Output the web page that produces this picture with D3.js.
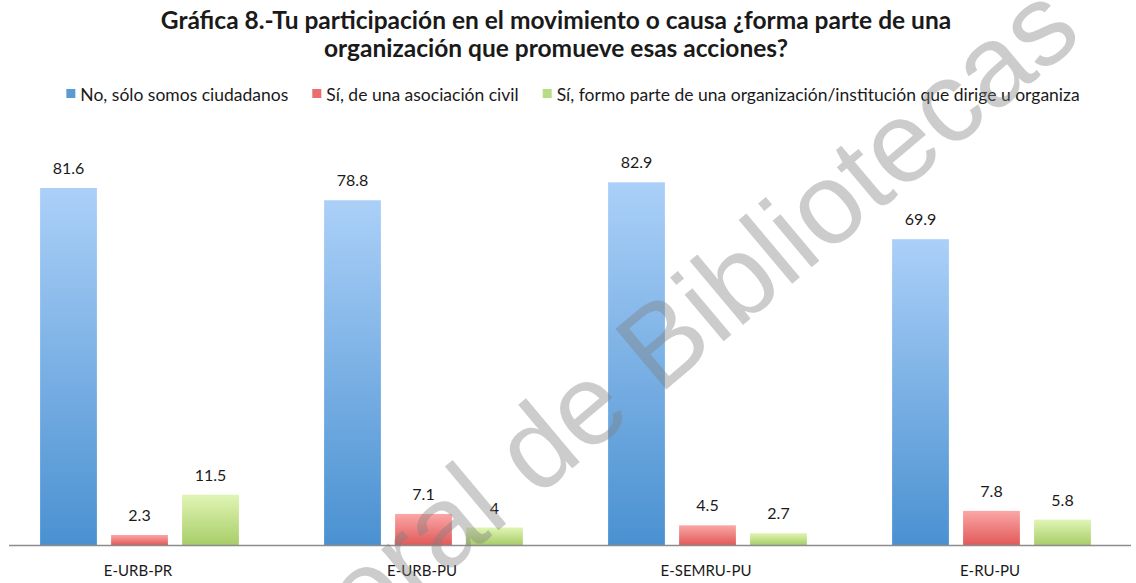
<!DOCTYPE html>
<meta charset="utf-8">
<style>
  body { margin: 0; background: #fff; }
  text { font-family: Lato, "Liberation Sans", sans-serif; }
</style>
<script src="https://d3js.org/d3.v7.min.js"></script>
<div id="chart"></div>
<script>

// data
var categories = ["E-URB-PR", "E-URB-PU", "E-SEMRU-PU", "E-RU-PU"];
var seriesNames = [
  "No, sólo somos ciudadanos",
  "Sí, de una asociación civil",
  "Sí, formo parte de una organización/institución que dirige u organiza"
];
var noCiudadanos = [81.6, 78.8, 82.9, 69.9];
var asociacionCivil = [2.3, 7.1, 4.5, 7.8];
var organizacion = [11.5, 4, 2.7, 5.8];
var titleLines = [
  "Gráfica 8.-Tu participación en el movimiento o causa ¿forma parte de una",
  "organización que promueve esas acciones?"
];
var watermark = "Dirección General de Bibliotecas";

var seriesValues = [noCiudadanos, asociacionCivil, organizacion];
var colors = [
  {top: "#abd0f8", bottom: "#4a91d1", key: "#5b9bd5"},
  {top: "#fba7a6", bottom: "#e05a59", key: "#ec6d6c"},
  {top: "#e0f5b4", bottom: "#a8cd69", key: "#b8dc84"}
];

var width = 1136, height = 583;
var svg = d3.select("#chart").append("svg")
  .attr("width", width)
  .attr("height", height);

// gradients, one per series (applied per bar bounding box)
var defs = svg.append("defs");
colors.forEach(function(c, i) {
  var g = defs.append("linearGradient")
    .attr("id", "grad" + i)
    .attr("x1", 0).attr("y1", 0).attr("x2", 0).attr("y2", 1);
  g.append("stop").attr("offset", "0%").attr("stop-color", c.top);
  g.append("stop").attr("offset", "100%").attr("stop-color", c.bottom);
});

// title
svg.append("g").selectAll("text")
  .data(titleLines)
  .enter().append("text")
    .attr("x", 556)
    .attr("y", function(d, i) { return 29 + i * 28; })
    .attr("text-anchor", "middle")
    .style("font-size", "24.5px")
    .style("font-weight", "bold")
    .style("fill", "#1a1a1a")
    .text(function(d) { return d; });

// scales
var x0 = d3.scaleBand().domain(categories).range([-4, 1132]);
var x1 = d3.scaleBand().domain(d3.range(3)).range([37, 250])
  .paddingInner(0.2).paddingOuter(0.1);
var y = d3.scaleLinear().domain([0, 90]).range([545, 151.25]);

var rows = [];
categories.forEach(function(cat, ci) {
  seriesValues.forEach(function(vals, si) {
    rows.push({cat: cat, s: si, v: vals[ci]});
  });
});

// watermark sits behind the value labels but over the bars
function drawWatermark() {
  svg.append("text")
    .attr("transform", "translate(1085,38) rotate(-40)")
    .attr("text-anchor", "end")
    .style("font-family", "'Liberation Sans', Arial, sans-serif")
    .style("font-size", "115px")
    .style("fill", "#7f7f7f")
    .style("fill-opacity", 0.4)
    .text(watermark);
}

// bars
svg.append("g").selectAll("rect")
  .data(rows)
  .enter().append("rect")
    .attr("x", function(d) { return x0(d.cat) + x1(d.s); })
    .attr("y", function(d) { return y(d.v); })
    .attr("width", x1.bandwidth())
    .attr("height", function(d) { return y(0) - y(d.v); })
    .attr("fill", function(d) { return "url(#grad" + d.s + ")"; });

// value labels
svg.append("g").selectAll("text")
  .data(rows)
  .enter().append("text")
    .attr("x", function(d) { return x0(d.cat) + x1(d.s) + x1.bandwidth() / 2; })
    .attr("y", function(d) { return y(d.v) - 14; })
    .attr("text-anchor", "middle")
    .style("font-size", "16px")
    .style("fill", "#1a1a1a")
    .text(function(d) { return d.v; });

// x axis
var xAxis = svg.append("g")
  .attr("transform", "translate(0," + y(0) + ")")
  .call(d3.axisBottom(x0).tickSize(0).tickPadding(20));
xAxis.select(".domain").attr("d", "M9,0.5H1131").attr("stroke", "#8c8c8c").attr("stroke-width", 1.5);
xAxis.selectAll("text")
  .style("font-family", "Lato, 'Liberation Sans', sans-serif")
  .style("font-size", "15px")
  .style("fill", "#1a1a1a");

// legend, centred
var legend = svg.append("g");
var lx = 0;
seriesNames.forEach(function(name, i) {
  var g = legend.append("g");
  g.append("rect")
    .attr("x", 0).attr("y", -12)
    .attr("width", 9).attr("height", 9)
    .attr("fill", colors[i].key);
  var t = g.append("text")
    .attr("x", 14).attr("y", 0)
    .style("font-size", "17.5px")
    .style("fill", "#1a1a1a")
    .text(name);
  g.attr("transform", "translate(" + lx + ",0)");
  lx += 14 + t.node().getComputedTextLength() + 24;
});
legend.attr("transform", "translate(" + (573 - (lx - 24) / 2) + ",101)");

drawWatermark();

</script>
